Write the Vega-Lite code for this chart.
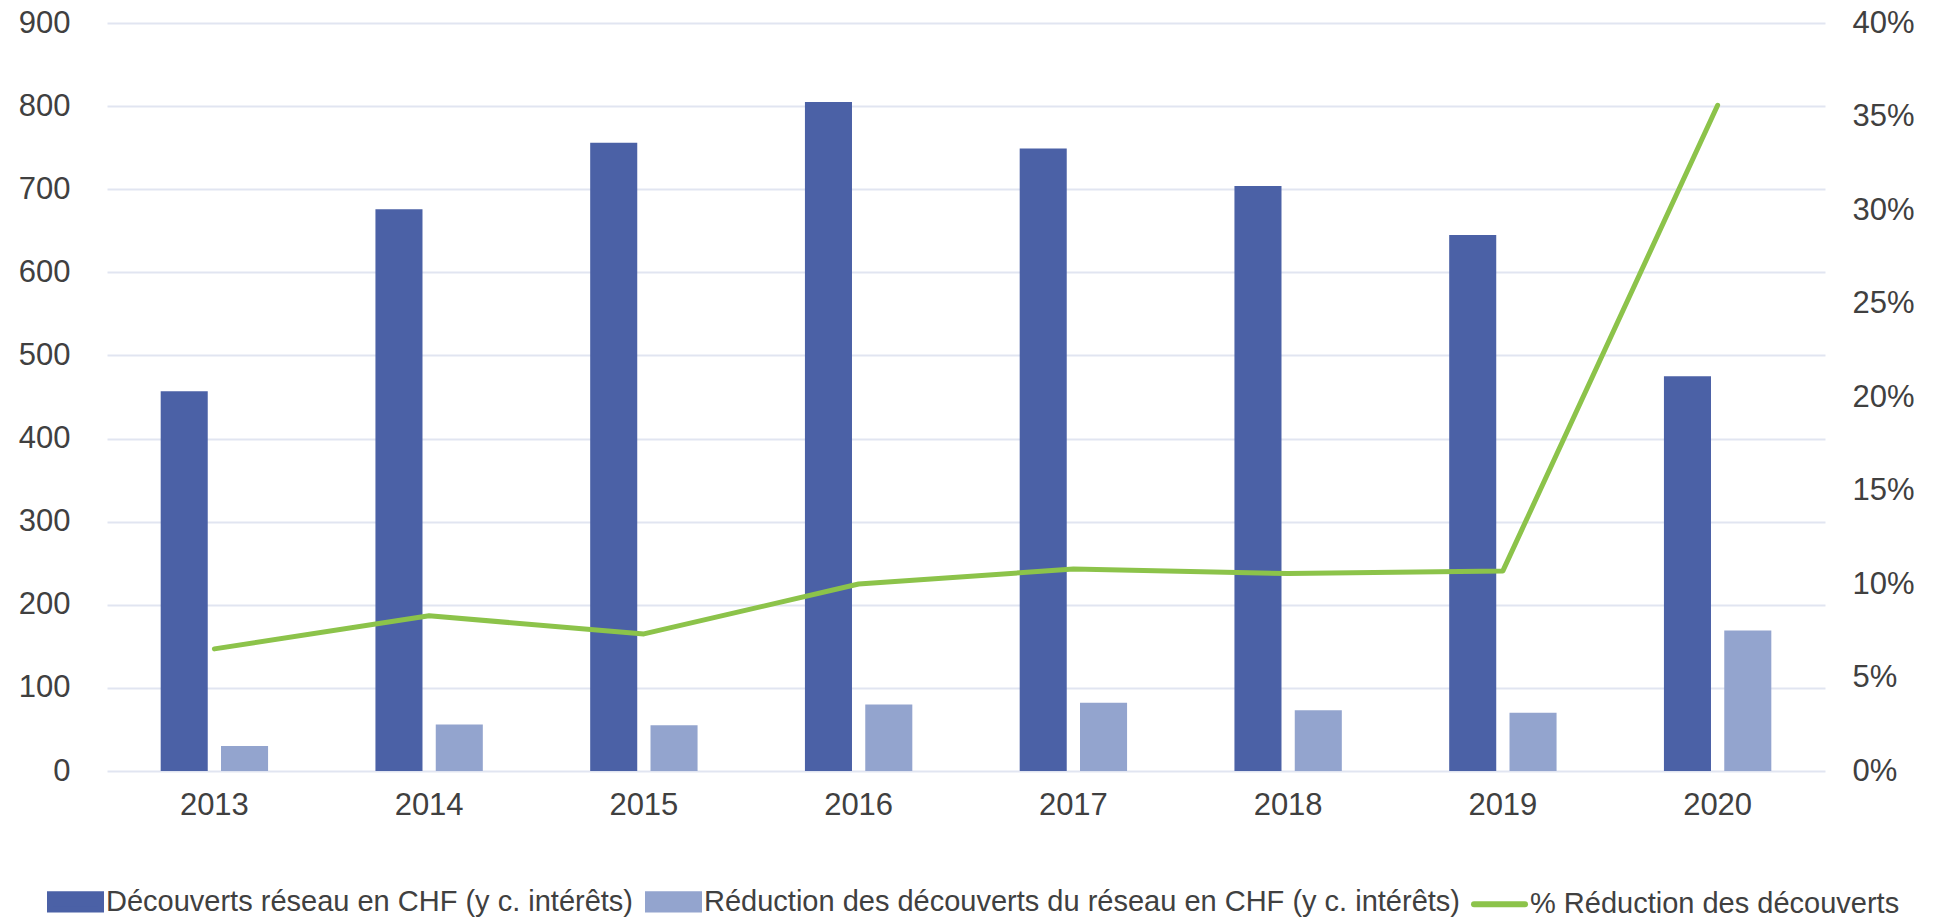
{
  "$schema": "https://vega.github.io/schema/vega-lite/v6.json",
  "width": 1718,
  "height": 748,
  "autosize": "none",
  "padding": {"left": 107, "top": 23, "right": 109, "bottom": 148},
  "background": "white",
  "config": {
    "view": {"stroke": null},
    "font": "Liberation Sans",
    "axis": {"labelFont": "Liberation Sans", "labelColor": "#404040", "labelFontSize": 31}
  },
  "datasets": {
    "bars": [
      {"year": "2013", "series": "Découverts réseau en CHF (y c. intérêts)", "value": 457},
      {"year": "2014", "series": "Découverts réseau en CHF (y c. intérêts)", "value": 676},
      {"year": "2015", "series": "Découverts réseau en CHF (y c. intérêts)", "value": 756},
      {"year": "2016", "series": "Découverts réseau en CHF (y c. intérêts)", "value": 805},
      {"year": "2017", "series": "Découverts réseau en CHF (y c. intérêts)", "value": 749},
      {"year": "2018", "series": "Découverts réseau en CHF (y c. intérêts)", "value": 704},
      {"year": "2019", "series": "Découverts réseau en CHF (y c. intérêts)", "value": 645},
      {"year": "2020", "series": "Découverts réseau en CHF (y c. intérêts)", "value": 475},
      {"year": "2013", "series": "Réduction des découverts du réseau en CHF (y c. intérêts)", "value": 30},
      {"year": "2014", "series": "Réduction des découverts du réseau en CHF (y c. intérêts)", "value": 56},
      {"year": "2015", "series": "Réduction des découverts du réseau en CHF (y c. intérêts)", "value": 55},
      {"year": "2016", "series": "Réduction des découverts du réseau en CHF (y c. intérêts)", "value": 80},
      {"year": "2017", "series": "Réduction des découverts du réseau en CHF (y c. intérêts)", "value": 82},
      {"year": "2018", "series": "Réduction des découverts du réseau en CHF (y c. intérêts)", "value": 73},
      {"year": "2019", "series": "Réduction des découverts du réseau en CHF (y c. intérêts)", "value": 70},
      {"year": "2020", "series": "Réduction des découverts du réseau en CHF (y c. intérêts)", "value": 169}
    ],
    "line": [
      {"year": "2013", "series": "% Réduction des découverts", "pct": 0.0653},
      {"year": "2014", "series": "% Réduction des découverts", "pct": 0.083},
      {"year": "2015", "series": "% Réduction des découverts", "pct": 0.0733},
      {"year": "2016", "series": "% Réduction des découverts", "pct": 0.100},
      {"year": "2017", "series": "% Réduction des découverts", "pct": 0.108},
      {"year": "2018", "series": "% Réduction des découverts", "pct": 0.1056},
      {"year": "2019", "series": "% Réduction des découverts", "pct": 0.107},
      {"year": "2020", "series": "% Réduction des découverts", "pct": 0.356}
    ]
  },
  "encoding": {
    "x": {
      "field": "year",
      "type": "nominal",
      "scale": {"paddingInner": 0.5, "paddingOuter": 0.25},
      "axis": {"title": null, "labelAngle": 0, "ticks": false, "domain": false, "labelPadding": 19, "grid": false}
    }
  },
  "layer": [
    {
      "data": {"name": "bars"},
      "mark": {"type": "bar"},
      "encoding": {
        "xOffset": {
          "field": "series",
          "type": "nominal",
          "sort": ["Découverts réseau en CHF (y c. intérêts)", "Réduction des découverts du réseau en CHF (y c. intérêts)"],
          "scale": {"paddingInner": 0.22, "paddingOuter": 0}
        },
        "y": {
          "field": "value",
          "type": "quantitative",
          "scale": {"domain": [0, 900], "nice": false},
          "axis": {"title": null, "values": [0, 100, 200, 300, 400, 500, 600, 700, 800, 900], "ticks": false, "domain": false, "labelPadding": 37, "grid": true, "gridColor": "#E1E5F1", "gridWidth": 2}
        },
        "color": {
          "field": "series",
          "type": "nominal",
          "scale": {
            "domain": ["Découverts réseau en CHF (y c. intérêts)", "Réduction des découverts du réseau en CHF (y c. intérêts)", "% Réduction des découverts"],
            "range": ["#4B61A6", "#93A4CE", "#8CC34A"]
          },
          "legend": {
            "orient": "none",
            "legendX": -60,
            "legendY": 850,
            "direction": "horizontal",
            "title": null,
            "labelFont": "Liberation Sans",
            "labelFontSize": 29,
            "labelColor": "#404040",
            "labelLimit": 2000,
            "labelOffset": 2,
            "columnPadding": 2,
            "symbolSize": 2601,
            "encode": {
              "symbols": {
                "update": {
                  "shape": {"signal": "datum.value === '% Réduction des découverts' ? 'stroke' : 'M-1,-0.3H1V0.3H-1Z'"},
                  "fill": {"signal": "datum.value === '% Réduction des découverts' ? 'transparent' : scale('color', datum.value)"},
                  "stroke": {"signal": "datum.value === '% Réduction des découverts' ? scale('color', datum.value) : 'transparent'"},
                  "strokeWidth": {"value": 6},
                  "strokeCap": {"value": "round"},
                  "opacity": {"value": 1}
                }
              }
            }
          }
        }
      }
    },
    {
      "data": {"name": "line"},
      "mark": {"type": "line", "strokeWidth": 5, "strokeCap": "round", "strokeJoin": "round"},
      "encoding": {
        "y": {
          "field": "pct",
          "type": "quantitative",
          "scale": {"domain": [0, 0.4], "nice": false},
          "axis": {"title": null, "orient": "right", "format": ".0%", "values": [0, 0.05, 0.1, 0.15, 0.2, 0.25, 0.3, 0.35, 0.4], "ticks": false, "domain": false, "labelPadding": 27, "grid": false}
        },
        "color": {"field": "series", "type": "nominal"}
      }
    }
  ],
  "resolve": {"scale": {"y": "independent"}}
}
